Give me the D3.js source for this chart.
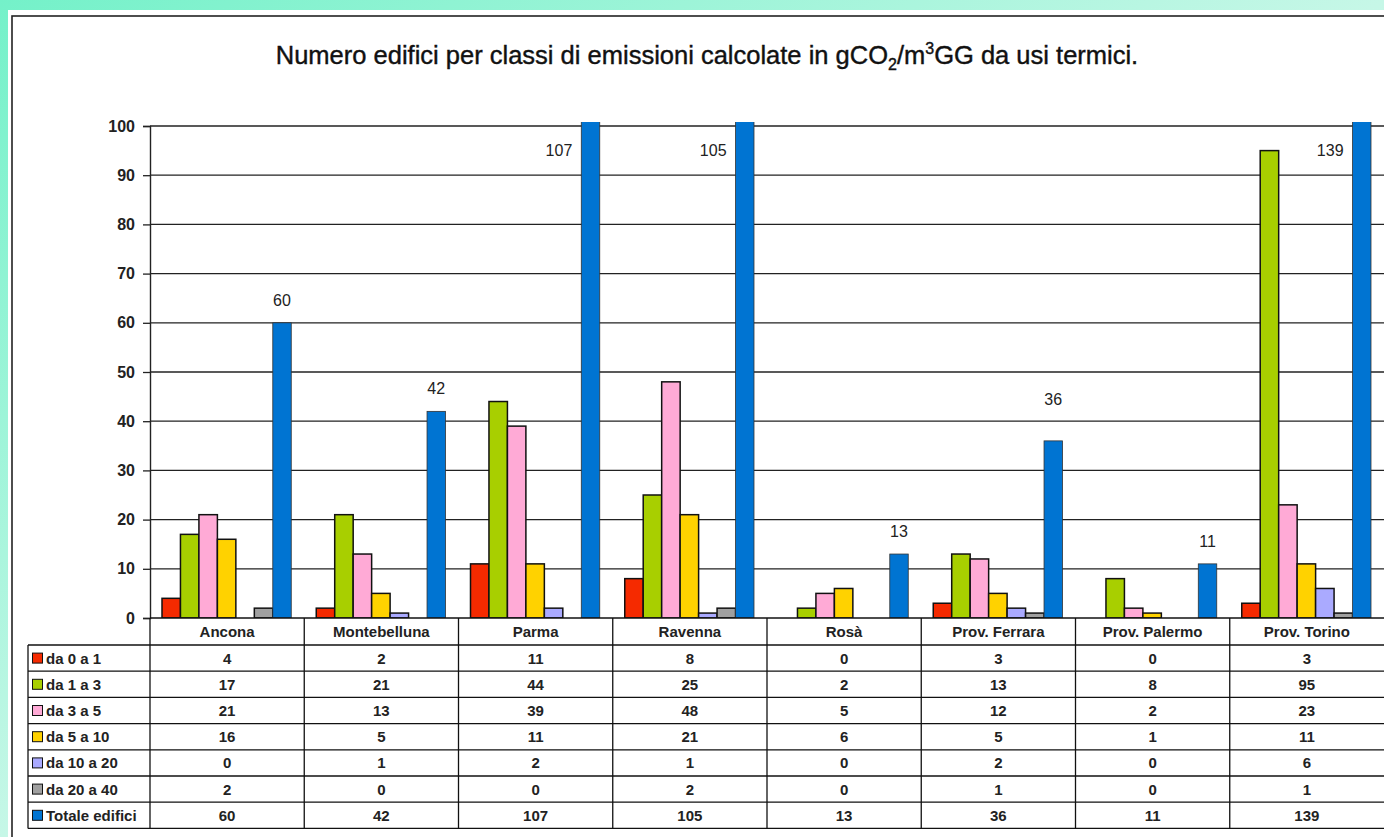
<!DOCTYPE html>
<html>
<head>
<meta charset="utf-8">
<script src="https://cdn.jsdelivr.net/npm/d3@7/dist/d3.min.js"></script>
<style>
  html, body { margin: 0; padding: 0; background: #fff; }
  svg { display: block; font-family: "Liberation Sans", Arial, sans-serif; }
</style>
</head>
<body>
<svg id="chart" width="1384" height="837"></svg>
<script>
// Building counts by emission class (gCO2/m3GG), per location
const locations = ["Ancona", "Montebelluna", "Parma", "Ravenna", "Rosà", "Prov. Ferrara", "Prov. Palermo", "Prov. Torino"];
const classes = ["da 0 a 1", "da 1 a 3", "da 3 a 5", "da 5 a 10", "da 10 a 20", "da 20 a 40", "Totale edifici"];
const da0a1   = [4, 2, 11, 8, 0, 3, 0, 3];
const da1a3   = [17, 21, 44, 25, 2, 13, 8, 95];
const da3a5   = [21, 13, 39, 48, 5, 12, 2, 23];
const da5a10  = [16, 5, 11, 21, 6, 5, 1, 11];
const da10a20 = [0, 1, 2, 1, 0, 2, 0, 6];
const da20a40 = [2, 0, 0, 2, 0, 1, 0, 1];
const totale  = [60, 42, 107, 105, 13, 36, 11, 139];
const yTicks  = [0, 10, 20, 30, 40, 50, 60, 70, 80, 90, 100];

const series = [da0a1, da1a3, da3a5, da5a10, da10a20, da20a40, totale];
const colors = ["#f52a00", "#a8cf00", "#ffaad6", "#ffd200", "#aaaaff", "#a0a0a0", "#0074d2"];

const svg = d3.select("#chart");
const W = 1384, H = 837;

// background wash and white sheet
const defs = svg.append("defs");
const grad = defs.append("linearGradient").attr("id", "bg")
  .attr("x1", 0).attr("y1", 0).attr("x2", 1).attr("y2", 1);
grad.append("stop").attr("offset", 0).attr("stop-color", "#74f1c9");
grad.append("stop").attr("offset", 0.5).attr("stop-color", "#c6f7e7");
grad.append("stop").attr("offset", 1).attr("stop-color", "#effdf7");
svg.append("rect").attr("width", W).attr("height", H).attr("fill", "url(#bg)");
svg.append("rect").attr("x", 8).attr("y", 10).attr("width", W).attr("height", H).attr("fill", "#fff");
svg.append("rect").attr("x", 12).attr("y", 16).attr("width", W + 20).attr("height", H + 20)
  .attr("fill", "none").attr("stroke", "#222").attr("stroke-width", 1.6);

// title
const title = svg.append("text").attr("x", 707).attr("y", 64).attr("text-anchor", "middle")
  .attr("font-size", 25.5).attr("fill", "#111").attr("stroke", "#111").attr("stroke-width", 0.4);
title.append("tspan").text("Numero edifici per classi di emissioni calcolate in gCO");
title.append("tspan").attr("font-size", 16).attr("dy", 6).text("2");
title.append("tspan").attr("dy", -6).text("/m");
title.append("tspan").attr("font-size", 16).attr("dy", -10).text("3");
title.append("tspan").attr("dy", 10).text("GG da usi termici.");

// scales
const plotLeft = 150, plotRight = 1384, plotTop = 126, plotBase = 618;
const x0 = d3.scaleBand().domain(locations).range([plotLeft, plotRight]).padding(0);
const x1 = d3.scaleBand().domain(classes).range([12, x0.bandwidth() - 13]).padding(0);
const y = d3.scaleLinear().domain([0, 100]).range([plotBase, plotTop]);

// gridlines
svg.append("g").selectAll("line").data(yTicks.filter(d => d > 0)).join("line")
  .attr("x1", plotLeft).attr("x2", W + 10)
  .attr("y1", d => y(d)).attr("y2", d => y(d))
  .attr("stroke", "#222").attr("stroke-width", 1.3);

// y axis
const yAxis = svg.append("g").attr("transform", `translate(${plotLeft},0)`)
  .call(d3.axisLeft(y).tickValues(yTicks).tickSize(7).tickPadding(8));
yAxis.select(".domain").attr("stroke", "#222").attr("stroke-width", 1.4);
yAxis.selectAll(".tick line").attr("stroke", "#222").attr("stroke-width", 1.3);
yAxis.selectAll(".tick text").attr("font-size", 16).attr("font-weight", "bold")
  .attr("fill", "#222").attr("font-family", "Liberation Sans, Arial, sans-serif");

// bars (clipped just above the 100 line)
defs.append("clipPath").attr("id", "plotclip").append("rect")
  .attr("x", plotLeft).attr("y", plotTop - 4).attr("width", plotRight - plotLeft + 20).attr("height", plotBase - plotTop + 4);

const rows = [];
locations.forEach((loc, i) => {
  series.forEach((s, j) => rows.push({ loc, cls: classes[j], v: s[i], j }));
});
svg.append("g").attr("clip-path", "url(#plotclip)")
  .selectAll("rect").data(rows.filter(d => d.v > 0)).join("rect")
  .attr("x", d => x0(d.loc) + x1(d.cls))
  .attr("y", d => y(d.v))
  .attr("width", x1.bandwidth())
  .attr("height", d => plotBase - y(d.v))
  .attr("fill", d => colors[d.j])
  .attr("stroke", d => d.j === 6 ? "#333" : "#111")
  .attr("stroke-width", d => d.j === 6 ? 0.8 : 1.5);

// total labels
const labelLift = { "Prov. Ferrara": 36 };
svg.append("g").selectAll("text").data(locations).join("text")
  .each(function (loc, i) {
    const v = totale[i];
    const bx = x0(loc) + x1("Totale edifici");
    const t = d3.select(this).attr("font-size", 16).attr("fill", "#222").text(v);
    if (v > 100) {
      t.attr("x", bx - 9).attr("y", 156).attr("text-anchor", "end");
    } else {
      t.attr("x", bx + x1.bandwidth() / 2).attr("y", y(v) - (labelLift[loc] || 17))
        .attr("text-anchor", "middle");
    }
  });

// data table
const rowH = 26.2, headTop = plotBase, tableTop = plotBase + 27, legLeft = 28;
const tbl = svg.append("g").attr("stroke", "#111").attr("stroke-width", 1.3);
tbl.append("line").attr("x1", plotLeft).attr("x2", W + 10).attr("y1", headTop).attr("y2", headTop);
d3.range(classes.length + 1).forEach(k => {
  tbl.append("line").attr("x1", legLeft).attr("x2", W + 10)
    .attr("y1", tableTop + k * rowH).attr("y2", tableTop + k * rowH);
});
const tableBottom = tableTop + classes.length * rowH;
tbl.append("line").attr("x1", legLeft).attr("x2", legLeft).attr("y1", tableTop).attr("y2", tableBottom);
locations.forEach(loc => {
  tbl.append("line").attr("x1", x0(loc)).attr("x2", x0(loc)).attr("y1", headTop).attr("y2", tableBottom);
});

svg.append("g").selectAll("text").data(locations).join("text")
  .attr("x", d => x0(d) + x0.bandwidth() / 2).attr("y", headTop + 19)
  .attr("text-anchor", "middle").attr("font-size", 15).attr("font-weight", "bold")
  .attr("fill", "#222").text(d => d);

const leg = svg.append("g").selectAll("g").data(classes).join("g")
  .attr("transform", (d, k) => `translate(${legLeft + 4},${tableTop + k * rowH})`);
leg.append("rect").attr("x", 0.5).attr("y", rowH / 2 - 5).attr("width", 10).attr("height", 10)
  .attr("fill", (d, k) => colors[k]).attr("stroke", "#111").attr("stroke-width", 1);
leg.append("text").attr("x", 14).attr("y", rowH / 2 + 5.5).attr("font-size", 15)
  .attr("font-weight", "bold").attr("fill", "#222").text(d => d);

series.forEach((s, k) => {
  svg.append("g").selectAll("text").data(locations).join("text")
    .attr("x", d => x0(d) + x0.bandwidth() / 2).attr("y", tableTop + k * rowH + rowH / 2 + 5.5)
    .attr("text-anchor", "middle").attr("font-size", 15).attr("font-weight", "bold")
    .attr("fill", "#222").text((d, i) => s[i]);
});
</script>
</body>
</html>
